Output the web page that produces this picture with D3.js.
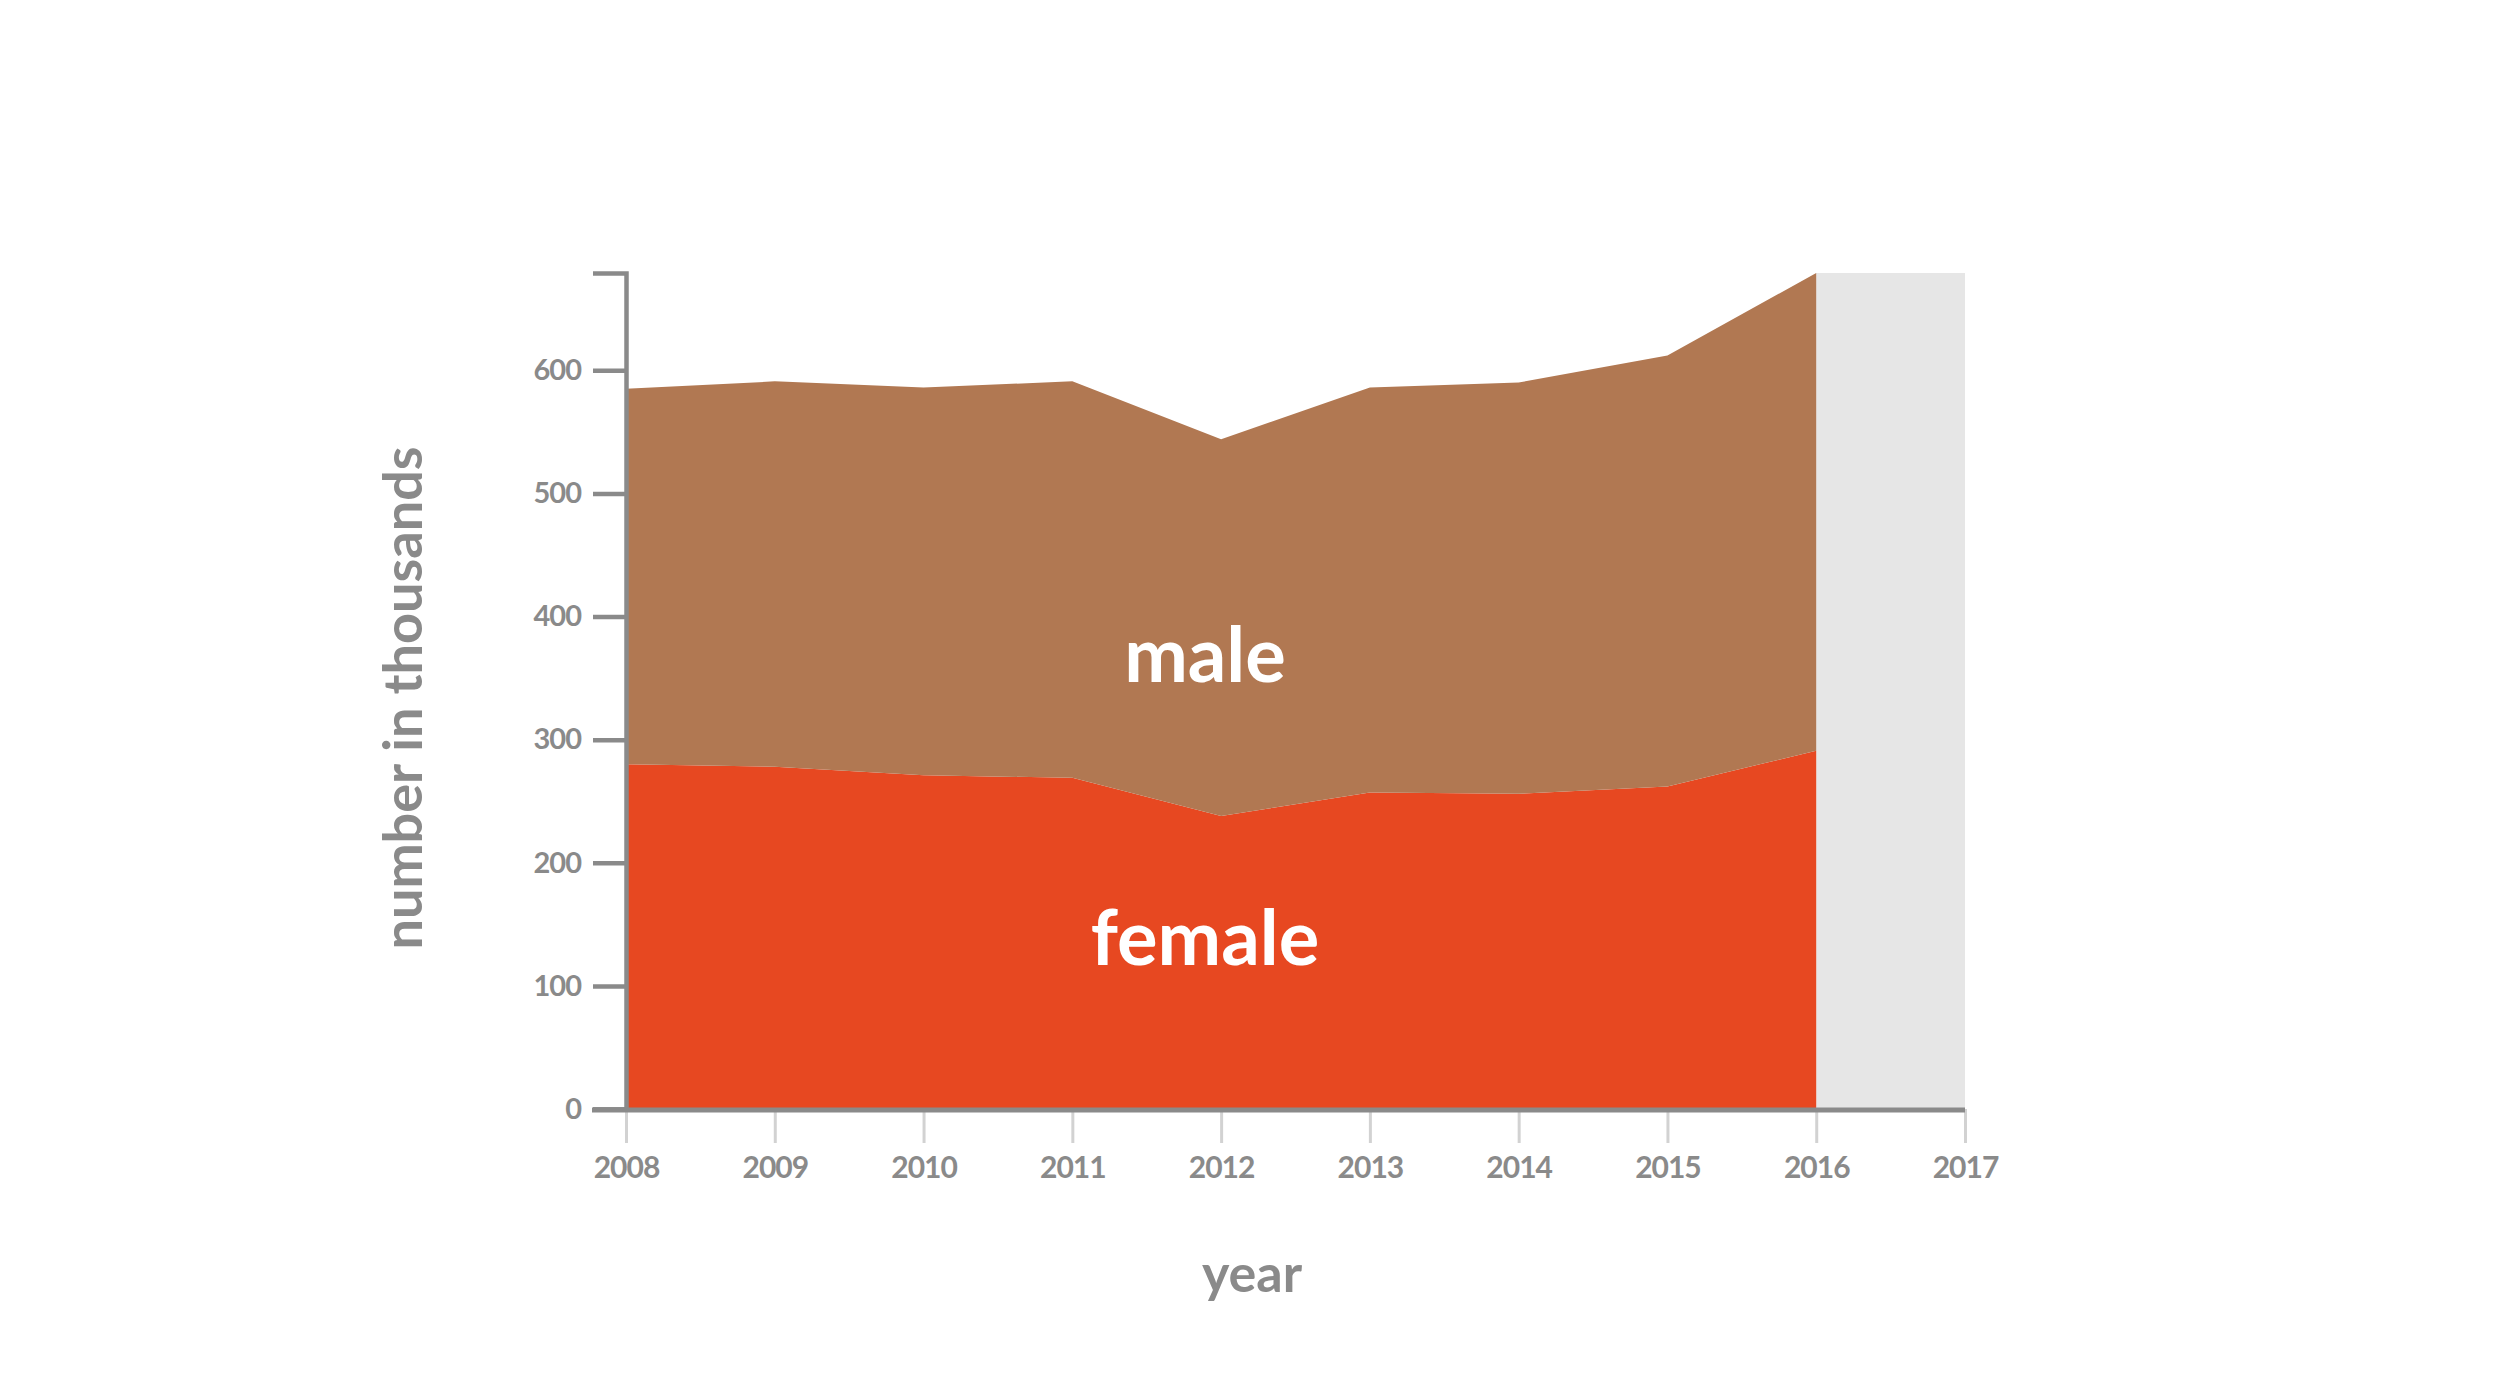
<!DOCTYPE html>
<html>
<head>
<meta charset="utf-8">
<script src="https://cdn.jsdelivr.net/npm/d3@7"></script>
<style>
  body { margin: 0; background: #fff; }
  text { font-family: Lato, "Open Sans", sans-serif; font-weight: bold; }
</style>
</head>
<body>
<div class="graph"></div>
<script>
var years = [2008, 2009, 2010, 2011, 2012, 2013, 2014, 2015, 2016]
var female = [280, 278, 271, 269, 238, 257, 256, 262, 291]
var male = [305, 313, 315, 322, 306, 329, 334, 350, 388]
var yTicks = [0, 100, 200, 300, 400, 500, 600]
var xTicks = [2008, 2009, 2010, 2011, 2012, 2013, 2014, 2015, 2016, 2017]

var w = 2500
var h = 1383
var axisColor = "#8a8a8a"

var rows = years.map(function(d, i){
  return { year: d, female: female[i], male: male[i] }
})
var stacked = d3.stack().keys(["female", "male"])(rows)
var yMax = d3.max(stacked[1], function(d){ return d[1] })

var x = d3.scaleLinear().domain([2008, 2017]).range([626, 1965])
var y = d3.scaleLinear().domain([0, yMax]).range([1109, 273])

var svg = d3.select(".graph")
  .append("svg")
  .attr("width", w)
  .attr("height", h)

// grey block for the year without data
svg.append("rect")
  .attr("x", x(2016))
  .attr("y", y(yMax))
  .attr("width", x(2017) - x(2016))
  .attr("height", y(0) - y(yMax))
  .attr("fill", "#e6e6e6")

var area = d3.area()
  .x(function(d){ return x(d.data.year) })
  .y0(function(d){ return y(d[0]) })
  .y1(function(d){ return y(d[1]) })

var colors = { female: "#e74821", male: "#b17852" }

svg.selectAll("path.layer")
  .data(stacked)
  .enter()
  .append("path")
  .attr("class", "layer")
  .attr("fill", function(d){ return colors[d.key] })
  .attr("d", area)

// x axis
var xAxis = svg.append("g")
  .attr("transform", "translate(0," + y(0) + ")")
  .call(d3.axisBottom(x).tickValues(xTicks).tickFormat(d3.format("d")).tickSize(34).tickPadding(14))
xAxis.select(".domain").remove()
xAxis.selectAll(".tick line").attr("stroke", "#d2d2d2").attr("stroke-width", 3)
xAxis.selectAll(".tick text")
  .attr("fill", axisColor)
  .attr("font-size", 30)
  .style("letter-spacing", "-1px")

svg.append("line")
  .attr("x1", x(2008) - 34)
  .attr("x2", x(2017))
  .attr("y1", y(0) + 1)
  .attr("y2", y(0) + 1)
  .attr("stroke", axisColor)
  .attr("stroke-width", 5)

// y axis
var yAxis = svg.append("g")
  .attr("transform", "translate(" + x(2008) + ",0)")
  .call(d3.axisLeft(y).tickValues(yTicks).tickSizeInner(33).tickSizeOuter(33).tickPadding(12))
yAxis.select(".domain").attr("stroke", axisColor).attr("stroke-width", 4.5)
yAxis.selectAll(".tick line").attr("stroke", axisColor).attr("stroke-width", 4.5)
yAxis.selectAll(".tick text")
  .attr("fill", axisColor)
  .attr("font-size", 29)
  .style("letter-spacing", "-1px")

// labels inside the areas
svg.append("text")
  .attr("x", 1205)
  .attr("y", 682)
  .attr("text-anchor", "middle")
  .attr("fill", "#fff")
  .attr("font-size", 76)
  .text("male")

svg.append("text")
  .attr("x", 1205)
  .attr("y", 965)
  .attr("text-anchor", "middle")
  .attr("fill", "#fff")
  .attr("font-size", 76)
  .text("female")

// axis titles
svg.append("text")
  .attr("transform", "translate(422,698) rotate(-90)")
  .attr("text-anchor", "middle")
  .attr("fill", axisColor)
  .attr("font-size", 54)
  .text("number in thousands")

svg.append("text")
  .attr("x", 1252)
  .attr("y", 1292)
  .attr("text-anchor", "middle")
  .attr("fill", axisColor)
  .attr("font-size", 52)
  .text("year")
</script>
</body>
</html>
